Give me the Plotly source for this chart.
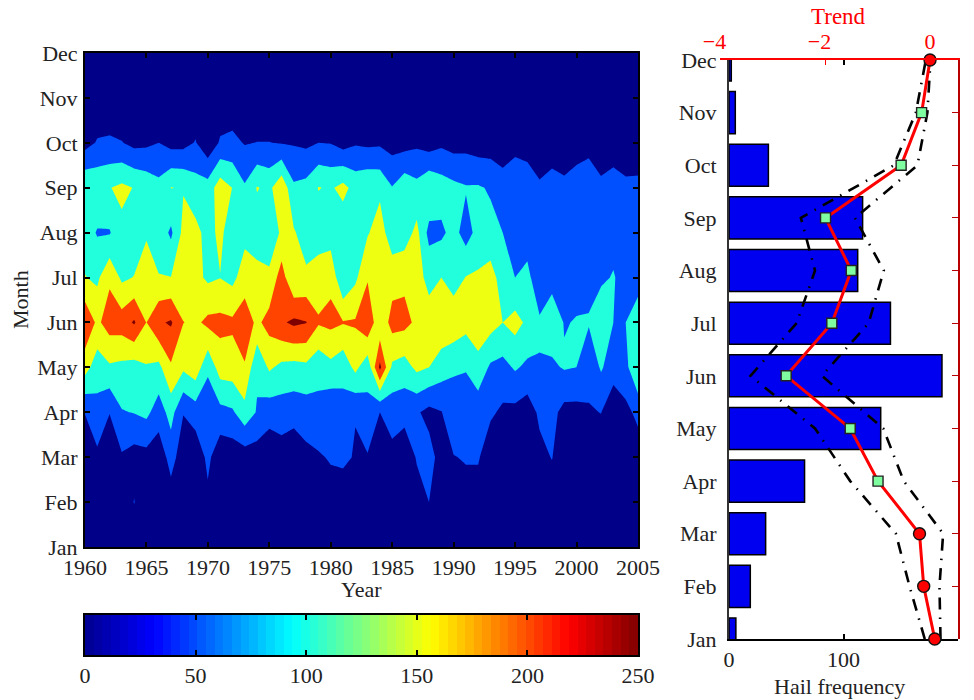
import plotly.graph_objects as go

W, H = 974, 700
years = list(range(1960, 2006))
months = ["Jan", "Feb", "Mar", "Apr", "May", "Jun", "Jul", "Aug", "Sep", "Oct", "Nov", "Dec"]
month_pos = list(range(1, 13))

jan = [2,2,2,2,1,1,1,4,1,1,5,1,1,1,1,1,1,1,1,2,5,3,2,2,2,1,1,3,5,1,1,3,3,1,1,1,1,1,3,1,1,1,1,1,1,1]
feb = [12,12,8,10,52,8,8,24,6,5,38,5,5,5,6,3,7,2,8,12,25,20,12,12,10,8,5,30,50,8,10,30,25,5,6,6,5,8,20,4,5,5,5,3,3,5]
mar = [30,40,25,44,29,33,18,70,22,15,62,16,19,24,24,12,26,10,37,44,55,60,46,46,35,37,17,54,69,30,48,54,55,18,25,20,15,35,52,15,18,18,20,10,15,23]
apr = [51,83,51,97,102,112,75,119,52,74,63,84,93,133,96,72,75,72,75,87,60,82,52,88,50,69,67,56,35,48,85,60,70,58,41,36,23,60,65,34,34,46,51,16,36,63]
may = [171,123,143,137,128,146,137,193,159,181,110,174,177,196,108,158,137,132,138,114,136,116,164,115,262,140,128,162,150,125,104,105,133,92,84,106,90,98,92,104,100,65,106,72,85,152]
jun = [241,190,223,225,256,199,243,256,201,190,212,214,209,228,190,218,243,260,252,205,212,203,205,242,160,219,215,190,168,185,186,166,180,170,150,168,140,104,126,98,102,104,140,100,100,120]
jul = [152,140,192,140,152,182,152,151,170,165,141,149,136,176,166,163,223,151,160,176,189,101,140,195,175,179,189,165,138,150,125,152,157,172,125,100,108,80,85,80,88,85,90,104,78,85]
aug = [125,96,96,138,118,143,130,91,164,163,135,160,125,135,125,110,160,155,125,125,125,116,125,146,172,122,125,164,84,90,118,78,118,114,100,88,86,70,80,72,80,85,70,80,70,70]
sep = [145,139,148,161,148,134,115,151,147,123,121,178,149,106,153,138,190,108,116,152,144,165,132,142,140,102,134,115,147,125,113,104,105,95,72,93,90,57,76,64,83,98,63,75,62,63]
oct_ = [32,54,57,52,36,40,50,33,34,53,13,56,62,47,51,51,47,46,40,50,48,30,45,40,42,30,30,40,25,40,30,33,24,25,22,30,20,18,15,12,18,25,13,20,14,15]
nov = [8,15,16,10,6,5,8,5,6,15,4,15,18,7,8,9,7,6,5,7,8,5,7,5,6,4,5,6,5,6,4,5,3,4,3,4,3,2,2,2,3,3,2,3,2,2]
dec = [2,3,2,1,2,1,3,1,2,4,1,3,5,1,1,2,1,1,0,2,1,1,1,2,1,0,1,1,0,1,0,1,0,1,0,0,1,0,0,0,0,1,0,0,0,0]

hail_frequency = [6, 18.6, 32, 66, 132.5, 186, 141, 112.4, 116.7, 34.4, 5.5, 2]
trend = [0.09, -0.12, -0.20, -0.99, -1.52, -2.74, -1.87, -1.50, -1.99, -0.55, -0.16, 0.0]
trend_low = [-0.10, -0.39, -0.65, -1.52, -2.19, -3.42, -2.54, -2.19, -2.46, -0.69, -0.27, -0.08]
trend_high = [0.20, 0.18, 0.25, -0.50, -0.89, -2.06, -1.17, -0.88, -1.43, -0.24, -0.05, 0.01]
significant = [False, False, False, True, True, True, True, True, True, True, True, False]

band_colors = ["#000088", "#0050FF", "#22FFDD", "#EEFF11", "#FF4400", "#800000"]
jet_stops = [[0, "#00008F"], [0.125, "#0000FF"], [0.375, "#00FFFF"], [0.625, "#FFFF00"], [0.875, "#FF0000"], [1, "#800000"]]
colorbar_ticks = [0, 50, 100, 150, 200, 250]
colorbar_steps = 64

FONT = "Liberation Serif"
TXT = "#222222"


def dx(a, b):
    return [a / W, b / W]


def dy(top, bottom):
    return [(H - bottom) / H, (H - top) / H]


fig = go.Figure()

fig.add_trace(go.Contour(
    x=years, y=month_pos, z=[jan, feb, mar, apr, may, jun, jul, aug, sep, oct_, nov, dec],
    autocontour=False, contours=dict(start=50, end=250, size=50, coloring="fill", showlines=False),
    line=dict(width=0, smoothing=0), showscale=False, hoverinfo="skip",
    colorscale=[[i / 5, c] for i, c in enumerate(band_colors)],
    xaxis="x", yaxis="y",
))

cell = 250 / colorbar_steps
fig.add_trace(go.Heatmap(
    x=[(i + 0.5) * cell for i in range(colorbar_steps)], y=[0, 1],
    z=[[(i + 0.5) * cell for i in range(colorbar_steps)]] * 2,
    zmin=0, zmax=250, colorscale=jet_stops, showscale=False, hoverinfo="skip",
    xaxis="x2", yaxis="y2",
))

fig.add_trace(go.Bar(
    y=month_pos, x=hail_frequency, orientation="h", width=0.8,
    marker=dict(color="#0000F0", line=dict(color="black", width=1.5)),
    showlegend=False, hoverinfo="skip", xaxis="x3", yaxis="y3",
))

for series in (trend_low, trend_high):
    fig.add_trace(go.Scatter(
        x=series, y=month_pos, mode="lines",
        line=dict(color="black", width=2.6, dash="12px,8px,1.5px,8px"),
        showlegend=False, hoverinfo="skip", xaxis="x4", yaxis="y4",
    ))

fig.add_trace(go.Scatter(
    x=trend, y=month_pos, mode="lines", line=dict(color="#FF0000", width=3),
    showlegend=False, hoverinfo="skip", xaxis="x4", yaxis="y4", cliponaxis=False,
))
fig.add_trace(go.Scatter(
    x=[t for t, s in zip(trend, significant) if s],
    y=[m for m, s in zip(month_pos, significant) if s],
    mode="markers", marker=dict(symbol="square", size=10, color="#7FFF9F", line=dict(color="#222222", width=1.4)),
    showlegend=False, hoverinfo="skip", xaxis="x4", yaxis="y4", cliponaxis=False,
))
fig.add_trace(go.Scatter(
    x=[t for t, s in zip(trend, significant) if not s],
    y=[m for m, s in zip(month_pos, significant) if not s],
    mode="markers", marker=dict(symbol="circle", size=12, color="#FF0000", line=dict(color="#111111", width=1.4)),
    showlegend=False, hoverinfo="skip", xaxis="x4", yaxis="y4", cliponaxis=False,
))

tick_font = dict(family=FONT, size=22, color=TXT)
black_axis = dict(showgrid=False, zeroline=False, showline=True, linecolor="black", linewidth=2, automargin=False,
                  ticks="inside", ticklen=5, tickcolor="black", tickwidth=1.5, tickfont=tick_font, layer="above traces")


def label(text, x, y, color=TXT, size=22, angle=0):
    return dict(text=text, x=x / W, y=1 - y / H, xref="paper", yref="paper", showarrow=False,
                xanchor="center", yanchor="middle", textangle=angle, font=dict(family=FONT, size=size, color=color))


fig.update_layout(
    width=W, height=H, margin=dict(l=0, r=0, t=0, b=0), paper_bgcolor="white", plot_bgcolor="rgba(0,0,0,0)",
    showlegend=False, bargap=0.2,
    font=dict(family=FONT, size=22, color=TXT),
    annotations=[
        label("Year", 361, 589),
        label("Month", 20, 300, angle=-90),
        label("Hail frequency", 839, 686),
        label("Trend", 838, 17, color="#FF0000", size=23),
    ],
    xaxis=dict(domain=dx(85, 638), range=[1960, 2005], anchor="y", mirror="ticks", dtick=5, tick0=1960, **black_axis),
    yaxis=dict(domain=dy(53, 547), range=[1, 12], anchor="x", mirror="ticks",
               tickvals=month_pos, ticktext=months, ticklabelstandoff=1, **black_axis),
    xaxis2=dict(domain=dx(85, 638), range=[0, 250], anchor="y2", mirror="ticks", tickvals=colorbar_ticks, **black_axis),
    yaxis2=dict(domain=dy(615, 655), range=[0, 1], anchor="x2", mirror=True, showgrid=False, zeroline=False, automargin=False,
                showline=True, linecolor="black", linewidth=2, ticks="", showticklabels=False, layer="above traces"),
    xaxis3=dict(domain=dx(729, 958), range=[0, 200], anchor="y3", mirror="ticks", tickvals=[0, 100, 200], **black_axis),
    yaxis3=dict(domain=dy(60, 639), range=[1, 12], anchor="x3", showgrid=False, zeroline=False, showline=True, automargin=False,
                linecolor="#333333", linewidth=2, ticks="", tickvals=month_pos, ticktext=months,
                tickfont=tick_font, ticklabelstandoff=6, layer="above traces"),
    xaxis4=dict(domain=dx(720, 958), range=[-4, 0.533], anchor="y4", side="top", showgrid=False, zeroline=False, automargin=False,
                showline=True, linecolor="#FF0000", linewidth=2, ticks="inside", ticklen=5, tickcolor="#FF0000",
                tickvals=[-4, -2, 0], ticktext=["\u22124\u2002", "\u22122\u2002", "0"],
                tickfont=dict(family=FONT, size=22, color="#FF0000"), layer="above traces"),
    yaxis4=dict(domain=dy(60, 639), range=[1, 12], anchor="x4", side="right", showgrid=False, zeroline=False, automargin=False,
                showline=True, linecolor="#B80000", linewidth=2, ticks="inside", ticklen=6, tickcolor="#B80000",
                tickvals=month_pos, showticklabels=False, layer="above traces"),
)

fig.write_html("out.html", config={"displayModeBar": False}, post_script="document.body.style.margin='0';")
